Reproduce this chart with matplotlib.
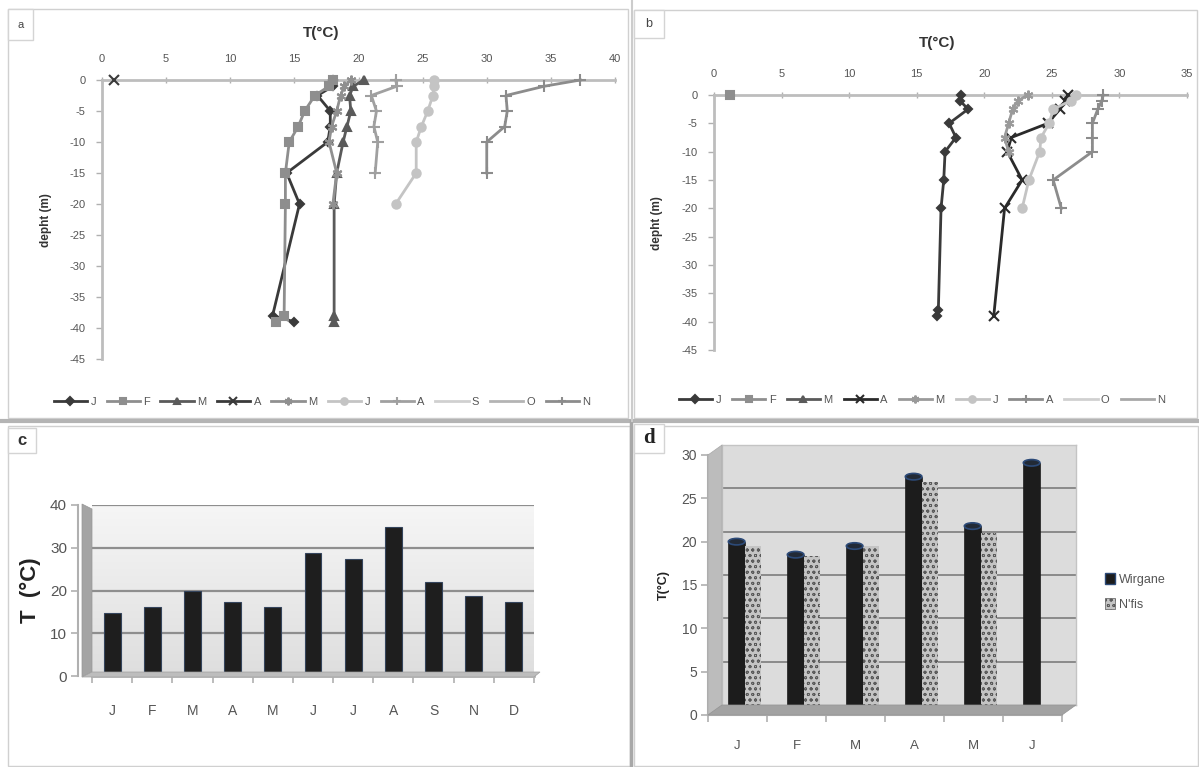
import numpy as np
import matplotlib.pyplot as plt
from matplotlib.patches import Rectangle, Polygon, Ellipse, Patch
from matplotlib.lines import Line2D
from matplotlib.colors import LinearSegmentedColormap

plt.rcParams['font.family'] = ['Liberation Sans', 'DejaVu Sans']
plt.rcParams['hatch.linewidth'] = 0.6
plt.rcParams['axes.unicode_minus'] = False

W, H = 1199, 767

# ---------------- data ----------------
depths = [0, -1, -2.5, -5, -7.5, -10, -15, -20, -38, -39]
depths_bA = [0, -1, -2.5, -5, -7.5, -10, -15, -20, -39]

# panel a (temperature profiles, site 1)
a_jan = [18.0, 18.0, 16.8, 17.8, 17.8, 17.6, 14.4, 15.4, 13.3, 15.0]
a_feb = [18.0, 17.7, 16.6, 15.8, 15.3, 14.6, 14.3, 14.3, 14.2, 13.6]
a_mar = [20.4, 19.6, 19.3, 19.4, 19.1, 18.8, 18.3, 18.1, 18.1, 18.1]
a_apr = [0.9]
a_may = [19.4, 18.9, 18.6, 18.3, 17.9, 17.7, 18.3, 18.0]
a_jun = [25.9, 25.9, 25.8, 25.4, 24.9, 24.5, 24.5, 22.9]
a_aug = [22.9, 23.0, 21.0, 21.4, 21.2, 21.5, 21.3]
a_sep = []
a_oct = []
a_nov = [37.3, 34.5, 31.5, 31.6, 31.4, 30.0, 30.0]

# panel b (temperature profiles, site 2)
b_jan = [18.3, 18.2, 18.8, 17.4, 17.9, 17.1, 17.0, 16.8, 16.6, 16.5]
b_feb = [1.2]
b_mar = []
b_apr = [26.2, 26.0, 25.6, 24.7, 22.0, 21.7, 22.8, 21.5, 20.7]
b_may = [23.2, 22.5, 22.1, 21.8, 21.5, 21.8]
b_jun = [26.8, 26.4, 25.1, 24.8, 24.2, 24.1, 23.3, 22.8]
b_aug = [28.8, 28.7, 28.4, 28.0, 28.0, 28.0, 25.1, 25.7]
b_oct = []
b_nov = []

# panel c (monthly mean temperature)
c_months = ['J', 'F', 'M', 'A', 'M', 'J', 'J', 'A', 'S', 'N', 'D']
c_temp = [14.8, 16.2, 20.0, 17.2, 16.2, 28.7, 27.3, 34.8, 22.1, 18.7, 17.2]

# panel d (two reservoirs)
d_months = ['J', 'F', 'M', 'A', 'M', 'J']
d_wirgane = [20.0, 18.5, 19.5, 27.5, 21.8, 29.1]
d_nfis = [19.5, 18.3, 19.5, 26.9, 21.0, np.nan]


def box(x0, y0, x1, y1):
    return [x0 / W, 1 - y1 / H, (x1 - x0) / W, (y1 - y0) / H]


def fp(x, y):
    return (x / W, 1 - y / H)


fig = plt.figure(figsize=(W / 100, H / 100), dpi=100)
fig.patch.set_facecolor('white')

# panel frames and separators
for x0, y0, x1, y1 in [(8, 9, 628, 418), (634, 10, 1197, 418),
                       (8, 426, 630, 766), (634, 426, 1198, 766)]:
    fig.add_artist(Rectangle(fp(x0, y1), (x1 - x0) / W, (y1 - y0) / H,
                             transform=fig.transFigure, fill=False,
                             ec='#d0d0d0', lw=1))
fig.add_artist(Line2D([0, 1], [1 - 421 / H] * 2, transform=fig.transFigure,
                      color='#b4b4b4', lw=3))
fig.add_artist(Line2D([631 / W] * 2, [0, 1 - 421 / H], transform=fig.transFigure,
                      color='#a8a8a8', lw=2.5))
fig.add_artist(Line2D([632 / W] * 2, [1 - 421 / H, 1], transform=fig.transFigure,
                      color='#cccccc', lw=1.5))

# panel letters
for (x0, y0, x1, y1), lab, kw in [
        ((8, 9, 33, 40), 'a', dict(fontsize=8, color='#444444')),
        ((634, 10, 664, 38), 'b', dict(fontsize=9, color='#444444')),
        ((8, 428, 36, 453), 'c', dict(fontsize=12, fontweight='bold', color='#333333')),
        ((634, 424, 664, 453), 'd', dict(fontsize=15, fontweight='bold', color='#222222',
                                          family='Liberation Serif'))]:
    fig.add_artist(Rectangle(fp(x0, y1), (x1 - x0) / W, (y1 - y0) / H,
                             transform=fig.transFigure, fc='white',
                             ec='#d4d4d4', lw=1))
    fig.text((x0 + x1) / 2 / W, 1 - (y0 + y1) / 2 / H, lab, ha='center',
             va='center', **kw)


# ---------------- panels a and b: profiles ----------------
def profile_axes(rect, xmax, series, title_xy, ylab_xy, leg_xy, colsp):
    ax = fig.add_axes(rect)
    handles = []
    for label, temps, dep, color, marker, ms in series:
        ln, = ax.plot(temps, dep[:len(temps)], color=color, lw=2, marker=marker,
                      ms=ms, mew=1.5, clip_on=False, zorder=3, label=label)
        handles.append(ln)
    ax.set_xlim(0, xmax)
    ax.set_ylim(-45, 0)
    ax.set_xticks(range(0, xmax + 1, 5))
    ax.set_yticks(range(-45, 1, 5))
    ax.xaxis.tick_top()
    for s in ['right', 'bottom']:
        ax.spines[s].set_visible(False)
    for s in ['top', 'left']:
        ax.spines[s].set_color('#bdbdbd')
        ax.spines[s].set_linewidth(2)
    ax.tick_params(axis='x', direction='inout', length=5, width=1, color='#b0b0b0',
                   labelsize=8, labelcolor='#555555', pad=9)
    ax.tick_params(axis='y', direction='out', length=4, width=1, color='#b0b0b0',
                   labelsize=8, labelcolor='#555555', pad=8)
    fig.text(title_xy[0] / W, 1 - title_xy[1] / H, 'T(°C)', ha='center', va='center',
             fontsize=11, fontweight='bold', color='#333333')
    fig.text(ylab_xy[0] / W, 1 - ylab_xy[1] / H, 'depht (m)', ha='center', va='center',
             rotation=90, fontsize=8.5, fontweight='bold', color='#333333')
    ax.legend(handles=handles, loc='center', bbox_to_anchor=fp(*leg_xy),
              bbox_transform=fig.transFigure, ncol=len(handles), frameon=False,
              fontsize=8, labelcolor='#555555', handlelength=3.0,
              handletextpad=0.3, columnspacing=colsp, markerscale=0.8)
    ax.patch.set_alpha(0)
    return ax


series_a = [
    ('J', a_jan, depths, '#3a3a3a', 'D', 4.5),
    ('F', a_feb, depths, '#8e8e8e', 's', 6),
    ('M', a_mar, depths, '#5a5a5a', '^', 6),
    ('A', a_apr, depths, '#3a3a3a', 'x', 7),
    ('M', a_may, depths, '#909090', (6, 2, 0), 7),
    ('J', a_jun, depths, '#c4c4c4', 'o', 6),
    ('A', a_aug, depths, '#a0a0a0', '+', 8),
    ('S', a_sep, depths, '#d0d0d0', None, 6),
    ('O', a_oct, depths, '#b4b4b4', None, 6),
    ('N', a_nov, depths, '#8c8c8c', '+', 8),
]
profile_axes(box(102, 80, 615, 359), 40, series_a, (321, 33), (46, 220), (322, 402), 0.95)

series_b = [
    ('J', b_jan, depths, '#3a3a3a', 'D', 4.5),
    ('F', b_feb, depths, '#8e8e8e', 's', 6),
    ('M', b_mar, depths, '#5a5a5a', '^', 6),
    ('A', b_apr, depths_bA, '#2a2a2a', 'x', 7),
    ('M', b_may, depths, '#9a9a9a', (6, 2, 0), 7),
    ('J', b_jun, depths, '#c4c4c4', 'o', 6),
    ('A', b_aug, depths, '#8c8c8c', '+', 8),
    ('O', b_oct, depths, '#d0d0d0', None, 6),
    ('N', b_nov, depths, '#a8a8a8', None, 6),
]
profile_axes(box(714, 95, 1187, 350), 35, series_b, (937, 43), (657, 223), (922, 400), 1.0)

# ---------------- panel c: monthly bars ----------------
axc = fig.add_axes(box(92, 505, 534, 676))
grad = LinearSegmentedColormap.from_list('wall', ['#dedede', '#f6f6f6'])
axc.imshow(np.linspace(1, 0, 100).reshape(-1, 1), cmap=grad, aspect='auto',
           extent=[0, 1, 0, 1], transform=axc.transAxes, zorder=0)
xc = np.arange(len(c_temp))
axc.bar(xc, c_temp, width=0.42, color='#1e1e1e', edgecolor='#34445c', lw=0.8, zorder=3)
axc.set_xlim(-0.5, len(c_temp) - 0.5)
axc.set_ylim(0, 40)
axc.set_yticks(range(0, 41, 10))
axc.yaxis.grid(True, color='#8e8e8e', lw=1.6, zorder=1)
axc.set_axisbelow(True)
axc.set_xticks(xc)
axc.set_xticklabels(c_months)
axc.set_xticks(np.arange(-0.5, len(c_temp), 1), minor=True)
for s in ['top', 'right']:
    axc.spines[s].set_visible(False)
axc.spines['left'].set_position(('outward', 10))
axc.spines['left'].set_color('#b0b0b0')
axc.spines['left'].set_linewidth(1.5)
axc.spines['bottom'].set_color('#b8b8b8')
axc.spines['bottom'].set_linewidth(2)
axc.tick_params(axis='x', which='major', length=0, pad=20, labelsize=10, labelcolor='#555555')
axc.tick_params(axis='x', which='minor', length=5, color='#b0b0b0', width=1.2)
axc.tick_params(axis='y', length=5, color='#b0b0b0', width=1.2, labelsize=11,
                labelcolor='#555555', pad=3)
fig.text(30 / W, 1 - 590 / H, 'T  (°C)', rotation=90, ha='center', va='center',
         fontsize=16, fontweight='bold', color='#222222')
fig.add_artist(Polygon([fp(82, 504), fp(92, 509), fp(92, 672), fp(82, 677)],
                       closed=True, transform=fig.transFigure, fc='#a4a4a4',
                       ec='#969696', lw=0.5, zorder=2))
fig.add_artist(Polygon([fp(82, 677), fp(92, 672), fp(540, 672), fp(534, 677)],
                       closed=True, transform=fig.transFigure, fc='#bdbdbd',
                       ec='#a0a0a0', lw=0.5, zorder=2))

# ---------------- panel d: two sites ----------------
axd_bg = fig.add_axes(box(722, 445, 1076, 705))
axd_bg.set_facecolor('#dcdcdc')
axd_bg.set_xlim(0, 1)
axd_bg.set_ylim(0, 30)
axd_bg.set_yticks(range(5, 31, 5))
axd_bg.yaxis.grid(True, color='#8a8a8a', lw=1.4)
axd_bg.tick_params(left=False, bottom=False, labelleft=False, labelbottom=False)
for s in axd_bg.spines.values():
    s.set_color('#c4c4c4')
    s.set_linewidth(1)

fig.add_artist(Polygon([fp(708, 455), fp(722, 445), fp(722, 705), fp(708, 715)],
                       closed=True, transform=fig.transFigure, fc='#bcbcbc',
                       ec='#a8a8a8', lw=0.5))
fig.add_artist(Polygon([fp(708, 715), fp(722, 705), fp(1076, 705), fp(1062, 715)],
                       closed=True, transform=fig.transFigure, fc='#a2a2a2',
                       ec='#949494', lw=0.5))

axd = fig.add_axes(box(708, 455, 1062, 715))
axd.patch.set_alpha(0)
xd = np.arange(len(d_months))
bw = 0.28
axd.bar(xd - 0.015, d_wirgane, width=bw, color='#1c1c1c', edgecolor='#1c1c1c',
        lw=0.5, zorder=3, label='Wirgane')
axd.bar(xd + 0.265, d_nfis, width=bw, color='#c4c4c4', edgecolor='#5a5a5a',
        hatch='ooo', lw=0, zorder=3, label="N'fis")
for xi, v in zip(xd, d_wirgane):
    axd.add_patch(Ellipse((xi - 0.015, v), bw, 0.75, fc='#222a36', ec='#2c4a78',
                          lw=1.2, zorder=4))
axd.set_xlim(-0.5, len(d_months) - 0.5)
axd.set_ylim(0, 30)
axd.set_yticks(range(0, 31, 5))
axd.set_xticks(xd)
axd.set_xticklabels(d_months)
axd.set_xticks(np.arange(-0.5, len(d_months), 1), minor=True)
for s in ['top', 'right']:
    axd.spines[s].set_visible(False)
for s in ['left', 'bottom']:
    axd.spines[s].set_color('#b0b0b0')
    axd.spines[s].set_linewidth(1.5)
axd.tick_params(axis='x', which='major', length=0, pad=18, labelsize=9.5, labelcolor='#555555')
axd.tick_params(axis='x', which='minor', length=5, color='#b0b0b0', width=1.2)
axd.tick_params(axis='y', length=5, color='#b0b0b0', width=1.2, labelsize=10,
                labelcolor='#555555', pad=3)
axd.set_ylabel('T(°C)', fontsize=9, fontweight='bold', color='#222222', labelpad=8)

leg_handles = [Patch(fc='#1c1c1c', ec='#2c4a78', lw=1, label='Wirgane'),
               Patch(fc='#c4c4c4', ec='#5a5a5a', hatch='ooo', lw=0.5, label="N'fis")]
axd.legend(handles=leg_handles, loc='upper left', bbox_to_anchor=fp(1094, 562),
           bbox_transform=fig.transFigure, frameon=False, fontsize=9,
           labelcolor='#555555', handlelength=0.8, handleheight=0.9,
           handletextpad=0.3, labelspacing=1.0)

fig.savefig('out.png', dpi=100, facecolor='white')
